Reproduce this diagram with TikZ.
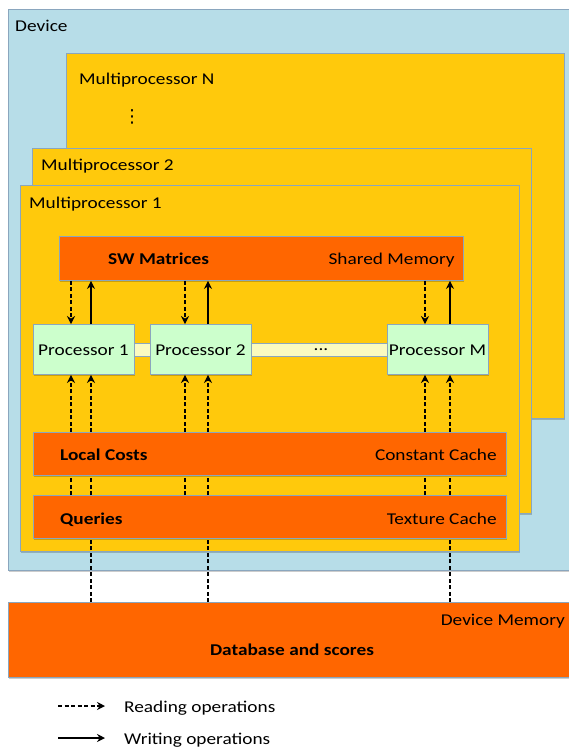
\documentclass[tikz,border=0pt]{standalone}
\usepackage{fontspec}
\setmainfont[FakeStretch=1.17]{Carlito}
\newfontfamily\dotsfont{DejaVu Sans}
\usetikzlibrary{arrows.meta, positioning, calc, shadows}
\definecolor{devblue}{HTML}{B7DDE8}
\definecolor{mpyellow}{HTML}{FFC90C}
\definecolor{memorange}{HTML}{FF6600}
\definecolor{procgreen}{HTML}{CCFFCC}
\definecolor{busyellow}{HTML}{FAFAC0}
\definecolor{edgeblue}{HTML}{8AA6BE}

\begin{document}
\begin{tikzpicture}[
    x=1pt, y=-1pt,
    font=\fontsize{16.5}{19}\selectfont,
    panel/.style={draw=edgeblue, line width=0.9pt, anchor=north west, inner sep=0pt,
                  drop shadow={shadow xshift=1pt, shadow yshift=-1.5pt, fill=black, opacity=0.2}},
    device/.style={panel, fill=devblue},
    mproc/.style={panel, fill=mpyellow},
    membar/.style={panel, fill=memorange},
    proc/.style={panel, fill=procgreen, anchor=center, minimum width=101pt, minimum height=50pt,
                 text height=11pt, text depth=0pt},
    bus/.style={draw=edgeblue, line width=0.8pt, fill=busyellow, minimum height=13pt, inner sep=0pt},
    txt/.style={inner sep=0pt, text height=11pt, text depth=0pt},
    lbl/.style={txt, anchor=west},
    rlbl/.style={txt, anchor=east},
    bold/.style={font=\fontsize{16.5}{19}\selectfont\bfseries},
    rd/.style={-{Stealth[length=8pt,width=8pt]}, line width=1.4pt, dash pattern=on 4pt off 2.5pt},
    wr/.style={-{Stealth[length=8pt,width=8pt]}, line width=1.4pt},
    dl/.style={line width=1.4pt, dash pattern=on 4pt off 2.5pt}
]
\useasboundingbox (0,0) rectangle (568,749);

% device and multiprocessors
\node[device, minimum width=564pt, minimum height=561pt] (dev) at (8,9) {};
\node[lbl] (devname) at (15,26) {Device};

\node[mproc, minimum width=498pt, minimum height=365pt] (mpN) at (66,53) {};
\node[lbl] (mpNname) at (79,79) {Multiprocessor N};
\node[inner sep=0pt, font=\dotsfont\fontsize{18}{20}\selectfont] (vdots) at (132,117) {⋮};

\node[mproc, minimum width=499pt, minimum height=365pt] (mp2) at (32,148) {};
\node[lbl] (mp2name) at (41,165) {Multiprocessor 2};

\node[mproc, minimum width=499pt, minimum height=366pt] (mp1) at (20,185) {};
\node[lbl] (mp1name) at (29,203) {Multiprocessor 1};

% memories inside multiprocessor 1
\node[membar, minimum width=404pt, minimum height=44pt] (sm) at (59,236) {};
\node[lbl, bold] (smname) at ($(sm.west)+(49,1)$) {SW Matrices};
\node[rlbl] (smkind) at ($(sm.east)+(-9,1)$) {Shared Memory};

\node[membar, minimum width=473pt, minimum height=43pt] (lc) at (33,432) {};
\node[lbl, bold] (lcname) at ($(lc.west)+(27,1)$) {Local Costs};
\node[rlbl] (lckind) at ($(lc.east)+(-10,1)$) {Constant Cache};

\node[membar, minimum width=473pt, minimum height=43pt] (qc) at (33,495) {};
\node[lbl, bold] (qcname) at ($(qc.west)+(27,2)$) {Queries};
\node[rlbl] (qckind) at ($(qc.east)+(-10,2)$) {Texture Cache};

% processors on a common bus
\node[bus, minimum width=254pt] (link) at (260.5,349.5) {};
\node[proc] (p1) at (83.5,349.5) {Processor 1};
\node[proc] (p2) at (200.5,349.5) {Processor 2};
\node[proc] (pM) at (437.5,349.5) {Processor M};
\node[inner sep=0pt] (dots) at ($(p2.east)!0.5!(pM.west)+(2,0)$) {...};

% device memory
\node[membar, minimum width=564pt, minimum height=75pt] (dm) at (8,602) {};
\node[rlbl] (dmkind) at (565,620) {Device Memory};
\node[txt, bold] (dmname) at (292,650) {Database and scores};

% reads and writes of each processor
\foreach \p/\a/\b in {p1/71/91, p2/185/208, pM/425/450} {
  \draw[rd] (sm.south -| \a,0) -- (\p.north -| \a,0);
  \draw[wr] (\p.north -| \b,0) -- (sm.south -| \b,0);
  \draw[rd] (lc.north -| \a,0) -- (\p.south -| \a,0);
  \draw[rd] (lc.north -| \b,0) -- (\p.south -| \b,0);
  \draw[dl] (qc.north -| \a,0) -- (lc.south -| \a,0);
  \draw[dl] (qc.north -| \b,0) -- (lc.south -| \b,0);
  \draw[dl] (dm.north -| \b,0) -- (qc.south -| \b,0);
}

% legend
\coordinate (rdA) at (58,706);
\coordinate (rdB) at (105,706);
\coordinate (wrA) at (58,738);
\coordinate (wrB) at (105,738);
\draw[rd] (rdA) -- (rdB);
\draw[wr] (wrA) -- (wrB);
\node[lbl] (rdtext) at (124,707) {Reading operations};
\node[lbl] (wrtext) at (124,739) {Writing operations};

\end{tikzpicture}
\end{document}
